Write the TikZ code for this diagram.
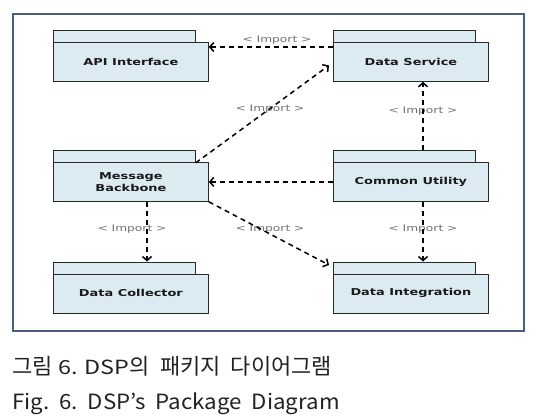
\documentclass[tikz,border=0pt]{standalone}
\usepackage{fontspec}
\setmainfont{DejaVu Sans}
\newfontfamily\pkgfont[FakeStretch=1.36]{DejaVu Sans Bold}
\newfontfamily\impfont[FakeStretch=1.36]{DejaVu Sans}
\newfontfamily\capkr{Noto Sans CJK KR}
\newfontfamily\caplatA[FakeStretch=1.2]{Noto Sans CJK KR}
\newfontfamily\caplatB[FakeStretch=1.06]{Noto Sans CJK KR}
\usetikzlibrary{arrows.meta,calc}
\definecolor{framec}{HTML}{4A5F80}
\definecolor{boxfill}{HTML}{DCEBF2}
\definecolor{boxline}{HTML}{2A2A2A}
\definecolor{txt}{HTML}{1A1A1A}
\definecolor{impgray}{HTML}{707070}
\definecolor{capc}{HTML}{222222}
\tikzset{
  pkgtab/.style={draw=boxline, fill=boxfill, line width=0.8pt, minimum width=142pt,
    minimum height=12.5pt, inner sep=0pt, anchor=north west},
  pkgbody/.style={draw=boxline, fill=boxfill, line width=0.8pt, minimum width=155pt,
    minimum height=39pt, inner sep=0pt, anchor=north west, align=center, text=txt,
    font=\pkgfont\fontsize{9.5}{11.5}\selectfont},
  implabel/.style={inner sep=0pt, text=impgray, font=\impfont\fontsize{9}{10}\selectfont},
  imparrow/.style={draw=black, line width=1.5pt, dash pattern=on 5pt off 4pt,
    -{Straight Barb[length=4pt,width=9pt]}},
  capnode/.style={anchor=base west, inner sep=0pt, text=capc}
}
\begin{document}
\begin{tikzpicture}[x=1pt,y=-1pt]
\useasboundingbox (0,0) rectangle (544,418);
\fill[white] (0,0) rectangle (544,418);
\node[draw=framec, line width=2pt, fill=white, minimum width=511pt, minimum height=317pt,
  inner sep=0pt, anchor=north west] (frame) at (12,13) {};
% packages
\node[pkgtab] (apitab) at (53,29.5) {};
\node[pkgbody] (api) at (53,42) {API Interface};
\node[pkgtab] (dstab) at (333,29.5) {};
\node[pkgbody] (ds) at (333,42) {Data Service};
\node[pkgtab] (mbtab) at (53,149.5) {};
\node[pkgbody] (mb) at (53,162) {Message\\Backbone};
\node[pkgtab] (cutab) at (333,149.5) {};
\node[pkgbody] (cu) at (333,162) {Common Utility};
\node[pkgtab] (dctab) at (53,261.5) {};
\node[pkgbody] (dc) at (53,273.5) {Data Collector};
\node[pkgtab] (ditab) at (333,261.5) {};
\node[pkgbody] (di) at (333,273.5) {Data Integration};
% labels
\node[implabel] (l1) at (277,40.5) {<\ Import\ >};
\node[implabel] (l2) at (270,109) {<\ Import\ >};
\node[implabel] (l3) at (423,111) {<\ Import\ >};
\node[implabel] (l4) at (132,229) {<\ Import\ >};
\node[implabel] (l5) at (270,229) {<\ Import\ >};
\node[implabel] (l6) at (423,229) {<\ Import\ >};
% connectors
\draw[imparrow] ($(ds.north west)+(0,5)$) -- ($(api.north east)+(0,5)$);
\draw[imparrow] (mbtab.south east) -- ($(ds.west)+(-4,3.5)$);
\draw[imparrow] ($(cutab.north west)+(90,0)$) -- ($(ds.south west)+(90,0)$);
\draw[imparrow] (cu.west) -- (mb.east);
\draw[imparrow] ($(mb.south west)+(94,0)$) -- ($(dctab.north west)+(94,0)$);
\draw[imparrow] (mb.south east) -- ($(ditab.north west)+(-4,3.5)$);
\draw[imparrow] ($(cu.south west)+(90,0)$) -- ($(ditab.north west)+(90,0)$);
% captions
\node[capnode] (cap1) at (12,374) {\fontsize{22}{22}\selectfont\capkr 그림\hspace{6pt}{\fontsize{19.5}{20}\selectfont\caplatA 6.}\hspace{6pt}{\fontsize{19.5}{20}\selectfont\caplatA DSP}의\hspace{11pt}패키지\hspace{10pt}다이어그램};
\node[capnode] (cap2) at (12,409) {\fontsize{21}{21}\selectfont\caplatB Fig.\hspace{10pt}6.\hspace{10pt}DSP’s\hspace{10pt}Package\hspace{10pt}Diagram};
\end{tikzpicture}
\end{document}
